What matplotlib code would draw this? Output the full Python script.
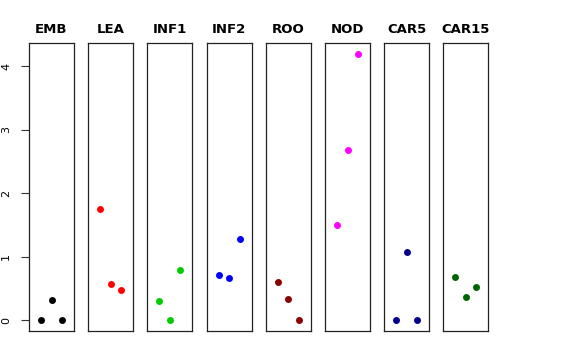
import matplotlib
matplotlib.use('Agg')
import matplotlib.pyplot as plt

# tissues and their three values each
tissues = ['EMB', 'LEA', 'INF1', 'INF2', 'ROO', 'NOD', 'CAR5', 'CAR15']
colors = ['black', 'red', '#00CD00', 'blue', '#8B0000', 'magenta', '#00008B', '#006400']
positions = [1, 2, 3]

emb = [0.0, 0.32, 0.0]
lea = [1.76, 0.58, 0.47]
inf1 = [0.31, 0.0, 0.80]
inf2 = [0.71, 0.66, 1.28]
roo = [0.60, 0.33, 0.0]
nod = [1.50, 2.68, 4.19]
car5 = [0.0, 1.07, 0.0]
car15 = [0.69, 0.36, 0.52]
values = [emb, lea, inf1, inf2, roo, nod, car5, car15]

W, H = 576, 360
fig = plt.figure(figsize=(5.76, 3.6), dpi=100)

left0, step, pw = 29, 59.2, 45
top, bottom = 43, 331

for i, (name, vals, c) in enumerate(zip(tissues, values, colors)):
    x0 = left0 + i * step
    ax = fig.add_axes([x0 / W, (H - bottom) / H, pw / W, (bottom - top) / H])
    ax.plot(positions, vals, 'o', color=c, markersize=5, markeredgewidth=0)
    ax.set_xlim(-0.16, 4.16)
    ax.set_ylim(-0.168, 4.368)
    ax.set_xticks([])
    for s in ax.spines.values():
        s.set_linewidth(0.9)
        s.set_color('#222222')
    ax.set_title(name, fontsize=9.5, fontweight='bold', pad=7)
    if i == 0:
        ax.set_yticks([0, 1, 2, 3, 4])
        ax.tick_params(axis='y', length=6, labelsize=8, pad=7, color='#333333')
        for lab in ax.get_yticklabels():
            lab.set_rotation(90)
            lab.set_va('center')
    else:
        ax.set_yticks([])

fig.savefig('out.png', dpi=100)
